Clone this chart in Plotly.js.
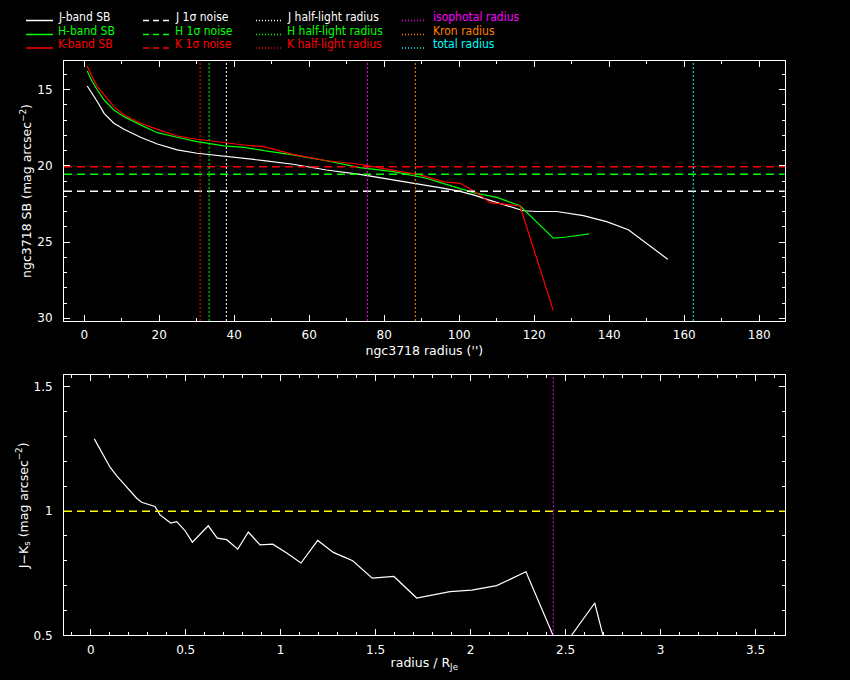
<!DOCTYPE html>
<html><head><meta charset="utf-8">
<script src="https://cdn.plot.ly/plotly-3.0.1.min.js"></script>
<style>html,body{margin:0;padding:0;background:#000;}#chart{width:850px;height:680px;}</style>
</head><body><div id="chart"></div>
<script>
// ---- surface brightness profiles (radius in arcsec, SB in mag arcsec^-2)
const jRadius = [0.8, 2.0, 3.5, 5.3, 7.9, 10.6, 15.0, 19.5, 24.8, 30.1, 37.3, 42.6, 47.9, 55.7, 64.6, 73.5, 82.4, 91.3, 96.0, 100.2, 104.0, 108.0, 112.6, 117.1, 120.6, 126.0, 133.1, 139.3, 145.1, 150.0, 155.6];
const jSB     = [14.77, 15.22, 15.80, 16.56, 17.21, 17.61, 18.13, 18.57, 18.96, 19.18, 19.36, 19.51, 19.66, 19.90, 20.28, 20.56, 20.93, 21.26, 21.48, 21.68, 21.93, 22.25, 22.60, 22.95, 23.00, 23.00, 23.27, 23.66, 24.20, 25.08, 26.13];
const hRadius = [0.8, 2.0, 3.5, 5.3, 7.9, 10.6, 15.0, 19.5, 24.8, 30.1, 37.3, 42.6, 47.9, 55.7, 64.6, 73.5, 82.4, 91.3, 95.0, 100.2, 104.0, 110.0, 116.2, 125.1, 128.7, 134.6];
const hSB     = [13.78, 14.42, 15.03, 15.69, 16.34, 16.78, 17.32, 17.83, 18.13, 18.42, 18.70, 18.79, 19.01, 19.29, 19.67, 20.12, 20.39, 20.82, 21.11, 21.48, 21.78, 22.07, 22.62, 24.75, 24.67, 24.47];
const kRadius = [0.8, 2.0, 3.5, 5.3, 7.9, 10.6, 15.0, 19.5, 24.8, 30.1, 37.3, 42.6, 47.9, 55.7, 64.6, 73.5, 78.0, 82.4, 89.5, 95.7, 100.2, 102.0, 105.5, 108.2, 112.6, 116.2, 125.1];
const kSB     = [13.45, 14.11, 14.81, 15.36, 16.12, 16.67, 17.21, 17.61, 18.05, 18.26, 18.49, 18.64, 18.75, 19.25, 19.67, 19.90, 20.10, 20.28, 20.60, 21.04, 21.15, 21.37, 21.91, 22.42, 22.52, 22.64, 29.50];

// ---- noise levels and characteristic radii
const noiseLabels = ['J 1σ noise', 'H 1σ noise', 'K 1σ noise'];
const noiseLevels = [21.67, 20.55, 20.07];
const halfLightLabels = ['J half-light radius', 'H half-light radius', 'K half-light radius'];
const halfLightRadii = [37.9, 33.3, 30.9];
const otherRadiusLabels = ['isophotal radius', 'Kron radius', 'total radius'];
const otherRadii = [75.5, 88.3, 162.4];
const bandLabels = ['J-band SB', 'H-band SB', 'K-band SB'];

// ---- J-Ks colour profile (radius / R_Je)
const colourRadius = [0.019, 0.058, 0.102, 0.137, 0.198, 0.242, 0.268, 0.303, 0.338, 0.365, 0.391, 0.421, 0.453, 0.496, 0.535, 0.584, 0.619, 0.666, 0.716, 0.774, 0.830, 0.891, 0.958, 1.032, 1.107, 1.195, 1.277, 1.329, 1.379, 1.482, 1.540, 1.596, 1.716, 1.838, 1.891, 2.005, 2.137, 2.291, 2.470, 2.653, 2.780];
const colourJK     = [1.291, 1.240, 1.177, 1.142, 1.092, 1.052, 1.036, 1.029, 1.019, 0.985, 0.968, 0.952, 0.958, 0.922, 0.875, 0.912, 0.941, 0.891, 0.885, 0.847, 0.916, 0.864, 0.867, 0.831, 0.791, 0.882, 0.834, 0.817, 0.800, 0.730, 0.735, 0.737, 0.650, 0.670, 0.676, 0.682, 0.700, 0.756, 0.435, 0.630, 0.250];
const colourRefLevel = [1.0];
const colourMarkRadius = [2.435];

const bandColours = ['#ffffff', '#00ff00', '#ff0000'];
const otherColours = ['#ff00ff', '#ff8000', '#00ffff'];

const W = 850, H = 680;
const px = v => v / W;
const py = v => 1 - v / H;

const traces = [
  {x: jRadius, y: jSB, type: 'scatter', mode: 'lines', line: {color: bandColours[0], width: 1.2}, xaxis: 'x', yaxis: 'y', name: bandLabels[0]},
  {x: hRadius, y: hSB, type: 'scatter', mode: 'lines', line: {color: bandColours[1], width: 1.2}, xaxis: 'x', yaxis: 'y', name: bandLabels[1]},
  {x: kRadius, y: kSB, type: 'scatter', mode: 'lines', line: {color: bandColours[2], width: 1.2}, xaxis: 'x', yaxis: 'y', name: bandLabels[2]},
  {x: colourRadius, y: colourJK, type: 'scatter', mode: 'lines', line: {color: '#ffffff', width: 1.2}, xaxis: 'x2', yaxis: 'y2', name: 'J-Ks'}
];

const shapes = [];
noiseLevels.forEach((lv, i) => shapes.push({type: 'line', xref: 'x domain', x0: 0, x1: 1, yref: 'y', y0: lv, y1: lv, line: {color: bandColours[i], width: 1.5, dash: '8px,5px'}}));
halfLightRadii.forEach((r, i) => shapes.push({type: 'line', xref: 'x', x0: r, x1: r, yref: 'y domain', y0: 0, y1: 1, line: {color: bandColours[i], width: 1, dash: '2px,2px'}}));
otherRadii.forEach((r, i) => shapes.push({type: 'line', xref: 'x', x0: r, x1: r, yref: 'y domain', y0: 0, y1: 1, line: {color: otherColours[i], width: 1, dash: '2px,2px'}}));
colourRefLevel.forEach(lv => shapes.push({type: 'line', xref: 'x2 domain', x0: 0, x1: 1, yref: 'y2', y0: lv, y1: lv, line: {color: '#ffff00', width: 1.5, dash: '8px,5px'}}));
colourMarkRadius.forEach(r => shapes.push({type: 'line', xref: 'x2', x0: r, x1: r, yref: 'y2 domain', y0: 0, y1: 1, line: {color: '#ff00ff', width: 1, dash: '2px,2px'}}));

// legend block (drawn in page coordinates)
const rowText = [16.7, 30.7, 44.3];
const rowLine = [20.5, 34.5, 48.0];
const legFont = 'Liberation Sans Narrow, DejaVu Sans Condensed, Liberation Sans, sans-serif';
const annotations = [];
const legendCols = [
  {labels: bandLabels, colours: bandColours, x0: 26, x1: 53, tx: 56, dash: 'solid'},
  {labels: noiseLabels, colours: bandColours, x0: 143, x1: 170, tx: 173, dash: '6px,4px'},
  {labels: halfLightLabels, colours: bandColours, x0: 256, x1: 281, tx: 285, dash: '1px,2px'},
  {labels: otherRadiusLabels, colours: otherColours, x0: 402, x1: 426, tx: 431, dash: '1px,2px'}
];
legendCols.forEach(col => {
  col.labels.forEach((lab, i) => {
    shapes.push({type: 'line', xref: 'paper', yref: 'paper', x0: px(col.x0), x1: px(col.x1), y0: py(rowLine[i]), y1: py(rowLine[i]), line: {color: col.colours[i], width: 1.5, dash: col.dash}});
    annotations.push({xref: 'paper', yref: 'paper', x: px(col.tx), y: py(rowText[i]), xanchor: 'left', yanchor: 'middle', showarrow: false, text: lab, font: {family: legFont, size: 12, color: col.colours[i]}});
  });
});

const axisCommon = {
  showline: true, linecolor: '#ffffff', linewidth: 1, mirror: 'allticks',
  ticks: 'inside', tickcolor: '#ffffff', ticklen: 6, tickwidth: 1,
  showgrid: false, zeroline: false, automargin: false,
  tickfont: {family: 'DejaVu Sans', size: 12, color: '#ffffff'}
};

const layout = {
  width: W, height: H,
  paper_bgcolor: '#000000', plot_bgcolor: '#000000',
  margin: {l: 0, r: 0, t: 0, b: 0},
  showlegend: false,
  font: {family: 'DejaVu Sans', size: 12, color: '#ffffff'},
  xaxis: Object.assign({}, axisCommon, {
    domain: [px(64), px(784.7)], anchor: 'y', range: [-5.4, 186.8],
    tick0: 0, dtick: 20, minor: {dtick: 10, ticklen: 3, ticks: 'inside', tickcolor: '#ffffff', showgrid: false},
    ticklabelstandoff: 3,
    title: {text: "ngc3718 radius ('')", font: {family: 'DejaVu Sans', size: 12.5, color: '#ffffff'}, standoff: 4}
  }),
  yaxis: Object.assign({}, axisCommon, {
    domain: [py(321), py(61)], anchor: 'x', range: [30.18, 13.13],
    tick0: 0, dtick: 5, minor: {dtick: 1, ticklen: 3, ticks: 'inside', tickcolor: '#ffffff', showgrid: false},
    ticklabelstandoff: 8,
    title: {text: 'ngc3718 SB (mag arcsec<sup>−2</sup>)', font: {family: 'DejaVu Sans', size: 12.5, color: '#ffffff'}, standoff: 2}
  }),
  xaxis2: Object.assign({}, axisCommon, {
    domain: [px(64), px(784.7)], anchor: 'y2', range: [-0.1405, 3.653],
    tick0: 0, dtick: 0.5, minor: {dtick: 0.1, ticklen: 3, ticks: 'inside', tickcolor: '#ffffff', showgrid: false},
    ticklabelstandoff: 3,
    title: {text: 'radius / R<sub>Je</sub>', font: {family: 'DejaVu Sans', size: 12.5, color: '#ffffff'}, standoff: 2}
  }),
  yaxis2: Object.assign({}, axisCommon, {
    domain: [py(635.3), py(375.3)], anchor: 'x2', range: [0.5, 1.547],
    tick0: 0, dtick: 0.5, minor: {dtick: 0.1, ticklen: 3, ticks: 'inside', tickcolor: '#ffffff', showgrid: false},
    ticklabelstandoff: 8,
    title: {text: 'J−K<sub>s</sub> (mag arcsec<sup>−2</sup>)', font: {family: 'DejaVu Sans', size: 12.5, color: '#ffffff'}, standoff: 2}
  }),
  shapes: shapes,
  annotations: annotations
};

Plotly.newPlot('chart', traces, layout, {staticPlot: true, displayModeBar: false});
</script>
</body></html>
